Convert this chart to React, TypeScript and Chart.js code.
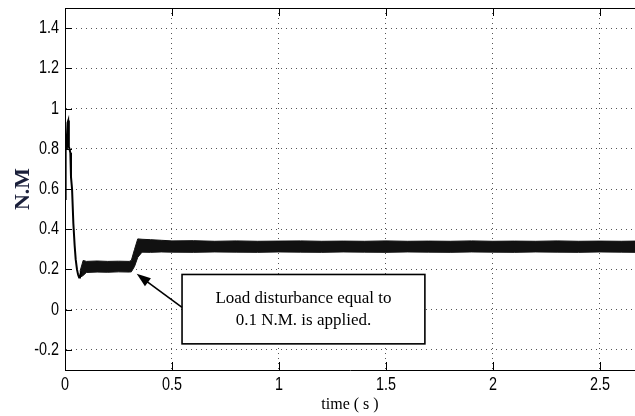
import React, { useEffect, useRef } from "react";
import { Chart, registerables } from "chart.js";

Chart.register(...registerables);

// Start-up transient of the torque response (time in s, torque in N.M)
const transientTime = [0, 0.003, 0.006, 0.009, 0.012, 0.015, 0.018, 0.021, 0.025, 0.028, 0.033, 0.039, 0.045, 0.05, 0.056, 0.061, 0.066, 0.07, 0.075];
const transientTorque = [0.55, 0.83, 0.8, 0.86, 0.93, 0.94, 0.81, 0.8, 0.78, 0.66, 0.6, 0.43, 0.32, 0.25, 0.2, 0.175, 0.16, 0.165, 0.19];

// Ripple band of the steady response: upper and lower envelopes
const bandTime = [0.07, 0.085, 0.1, 0.15, 0.2, 0.25, 0.3, 0.31, 0.325, 0.34, 0.36, 0.4, 0.45, 0.5, 0.6, 0.7, 0.8, 0.9, 1.0, 1.1, 1.2, 1.3, 1.4, 1.5, 1.6, 1.7, 1.8, 1.9, 2.0, 2.1, 2.2, 2.3, 2.4, 2.5, 2.6, 2.67];
const bandUpper = [0.19, 0.245, 0.24, 0.242, 0.24, 0.241, 0.24, 0.245, 0.3, 0.352, 0.35, 0.348, 0.345, 0.342, 0.343, 0.34, 0.342, 0.34, 0.341, 0.342, 0.34, 0.341, 0.34, 0.342, 0.34, 0.341, 0.34, 0.342, 0.34, 0.341, 0.34, 0.342, 0.34, 0.341, 0.34, 0.341];
const bandLower = [0.16, 0.17, 0.185, 0.187, 0.186, 0.188, 0.187, 0.188, 0.215, 0.26, 0.286, 0.285, 0.287, 0.286, 0.285, 0.287, 0.286, 0.285, 0.287, 0.286, 0.285, 0.287, 0.286, 0.285, 0.287, 0.286, 0.285, 0.287, 0.286, 0.285, 0.287, 0.286, 0.285, 0.287, 0.286, 0.285];

// Axis ticks
const xTicks = [0, 0.5, 1, 1.5, 2, 2.5];
const xTickLabels = ["0", "0.5", "1", "1.5", "2", "2.5"];
const yTicks = [-0.2, 0, 0.2, 0.4, 0.6, 0.8, 1, 1.2, 1.4];
const yTickLabels = ["-0.2", "0", "0.2", "0.4", "0.6", "0.8", "1", "1.2", "1.4"];

// Callout
const noteLines = ["Load disturbance equal to", "0.1 N.M. is applied."];
const noteBox = { x0: 0.547, x1: 1.682, yTop: 0.175, yBottom: -0.17 };
const arrowTip = { x: 0.335, y: 0.178 };
const arrowTail = { x: 0.547, y: 0.011 };

const SANS = "'Liberation Sans', Arial, sans-serif";
const SERIF = "'Liberation Serif', 'Times New Roman', serif";

// Condensed tick label: regular sans squeezed horizontally
function drawNarrowText(ctx: CanvasRenderingContext2D, text: string, x: number, y: number, align: "center" | "right") {
  ctx.save();
  ctx.translate(x, y);
  ctx.scale(0.8, 1);
  ctx.textAlign = align;
  ctx.textBaseline = "middle";
  ctx.fillText(text, 0, 0);
  ctx.restore();
}

const framePlugin = {
  id: "frame",
  afterDatasetsDraw(chart: any) {
    const { ctx, chartArea } = chart;
    const xs = chart.scales.x;
    const ys = chart.scales.y;
    ctx.save();
    ctx.strokeStyle = "#000";
    ctx.lineWidth = 1;
    // top border
    ctx.beginPath();
    ctx.moveTo(chartArea.left, chartArea.top + 0.5);
    ctx.lineTo(chartArea.right, chartArea.top + 0.5);
    ctx.stroke();
    // inward tick marks
    ctx.beginPath();
    xTicks.forEach((v) => {
      const px = Math.round(xs.getPixelForValue(v)) + 0.5;
      ctx.moveTo(px, chartArea.bottom);
      ctx.lineTo(px, chartArea.bottom - 8);
      ctx.moveTo(px, chartArea.top);
      ctx.lineTo(px, chartArea.top + 8);
    });
    yTicks.forEach((v) => {
      const py = Math.round(ys.getPixelForValue(v)) + 0.5;
      ctx.moveTo(chartArea.left, py);
      ctx.lineTo(chartArea.left + 7, py);
    });
    ctx.stroke();

    // tick labels
    ctx.fillStyle = "#000";
    ctx.font = `18px ${SANS}`;
    xTicks.forEach((v, i) => {
      drawNarrowText(ctx, xTickLabels[i], xs.getPixelForValue(v), chartArea.bottom + 15, "center");
    });
    yTicks.forEach((v, i) => {
      drawNarrowText(ctx, yTickLabels[i], chartArea.left - 6, ys.getPixelForValue(v), "right");
    });

    // callout box
    const bx0 = xs.getPixelForValue(noteBox.x0);
    const bx1 = xs.getPixelForValue(noteBox.x1);
    const by0 = ys.getPixelForValue(noteBox.yTop);
    const by1 = ys.getPixelForValue(noteBox.yBottom);
    ctx.fillStyle = "#fff";
    ctx.fillRect(bx0, by0, bx1 - bx0, by1 - by0);
    ctx.lineWidth = 1.6;
    ctx.strokeRect(bx0, by0, bx1 - bx0, by1 - by0);
    ctx.fillStyle = "#000";
    ctx.font = `17px ${SERIF}`;
    ctx.textAlign = "center";
    ctx.textBaseline = "middle";
    const cx = (bx0 + bx1) / 2;
    const cy = (by0 + by1) / 2;
    ctx.fillText(noteLines[0], cx, cy - 11);
    ctx.fillText(noteLines[1], cx, cy + 11);

    // arrow
    const tx = xs.getPixelForValue(arrowTip.x);
    const ty = ys.getPixelForValue(arrowTip.y);
    const sx = xs.getPixelForValue(arrowTail.x);
    const sy = ys.getPixelForValue(arrowTail.y);
    const ang = Math.atan2(ty - sy, tx - sx);
    const headLen = 14;
    const headHalf = 5;
    ctx.lineWidth = 1.6;
    ctx.beginPath();
    ctx.moveTo(sx, sy);
    ctx.lineTo(tx - Math.cos(ang) * headLen * 0.8, ty - Math.sin(ang) * headLen * 0.8);
    ctx.stroke();
    const bxp = tx - Math.cos(ang) * headLen;
    const byp = ty - Math.sin(ang) * headLen;
    ctx.beginPath();
    ctx.moveTo(tx, ty);
    ctx.lineTo(bxp + Math.sin(ang) * headHalf, byp - Math.cos(ang) * headHalf);
    ctx.lineTo(bxp - Math.sin(ang) * headHalf, byp + Math.cos(ang) * headHalf);
    ctx.closePath();
    ctx.fill();
    ctx.restore();
  },
};

export default function App() {
  const canvasRef = useRef<HTMLCanvasElement | null>(null);

  useEffect(() => {
    const canvas = canvasRef.current;
    if (!canvas) return;
    const chart = new Chart(canvas, {
      type: "line",
      data: {
        datasets: [
          {
            label: "transient",
            data: transientTime.map((t, i) => ({ x: t, y: transientTorque[i] })),
            borderColor: "#000",
            borderWidth: 2,
            pointRadius: 0,
            fill: false,
            tension: 0,
          },
          {
            label: "upper",
            data: bandTime.map((t, i) => ({ x: t, y: bandUpper[i] })),
            borderColor: "#111",
            borderWidth: 1,
            pointRadius: 0,
            fill: false,
            tension: 0,
          },
          {
            label: "lower",
            data: bandTime.map((t, i) => ({ x: t, y: bandLower[i] })),
            borderColor: "#111",
            backgroundColor: "#111",
            borderWidth: 1,
            pointRadius: 0,
            fill: "-1",
            tension: 0,
          },
        ],
      },
      options: {
        responsive: false,
        animation: false,
        devicePixelRatio: 1,
        layout: { padding: { left: 0, top: 8, right: 0, bottom: 0 } },
        plugins: { legend: { display: false }, tooltip: { enabled: false } },
        scales: {
          x: {
            type: "linear",
            min: 0,
            max: 2.664,
            afterBuildTicks: (scale: any) => {
              scale.ticks = xTicks.map((v) => ({ value: v }));
            },
            afterFit: (scale: any) => {
              scale.height = 46;
              scale.paddingLeft = 0;
              scale.paddingRight = 0;
            },
            ticks: { display: false },
            grid: { color: "#555", lineWidth: 1, drawTicks: false },
            border: { display: true, color: "#000", width: 1, dash: [1, 4] },
            title: {
              display: true,
              text: "time ( s )",
              color: "#000",
              font: { family: SERIF, size: 16 },
              padding: { top: 0, bottom: 2 },
            },
          },
          y: {
            type: "linear",
            min: -0.3,
            max: 1.5,
            afterBuildTicks: (scale: any) => {
              scale.ticks = yTicks.map((v) => ({ value: v }));
            },
            afterFit: (scale: any) => {
              scale.width = 65;
              scale.paddingTop = 0;
              scale.paddingBottom = 0;
            },
            ticks: { display: false },
            grid: { color: "#555", lineWidth: 1, drawTicks: false },
            border: { display: true, color: "#000", width: 1, dash: [1, 4] },
            title: {
              display: true,
              text: "N.M",
              color: "#1a1f3a",
              font: { family: SERIF, size: 22, weight: "bold" },
              padding: { top: 10, bottom: 0 },
            },
          },
        },
      },
      plugins: [framePlugin],
    });
    return () => chart.destroy();
  }, []);

  return (
    <div style={{ position: "fixed", left: 0, top: 0, width: 635, height: 416, background: "#fff" }}>
      <canvas ref={canvasRef} width={635} height={416} />
    </div>
  );
}
